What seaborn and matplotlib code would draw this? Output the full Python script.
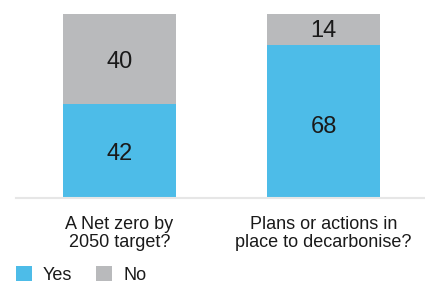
import matplotlib
matplotlib.use("Agg")
import matplotlib.pyplot as plt
import seaborn as sns
import pandas as pd
from matplotlib.patches import Patch

categories = ["A Net zero by\n2050 target?", "Plans or actions in\nplace to decarbonise?"]
yes_values = [42, 68]
no_values = [40, 14]
series_names = ["Yes", "No"]

BLUE = "#4dbce8"
GREY = "#b9babc"
TEXT = "#1a1a1a"

sns.set_theme(style="white")
plt.rcParams["font.family"] = ["Liberation Sans", "DejaVu Sans"]

df = pd.DataFrame({
    "category": categories,
    "Yes": yes_values,
    "No": no_values,
})
df["total"] = df["Yes"] + df["No"]

fig = plt.figure(figsize=(4.25, 2.84), dpi=100)
ax = fig.add_axes([16 / 425, (284 - 197.5) / 284, 1 - 16 / 425, 197.5 / 284])

sns.barplot(data=df, x="category", y="total", color=GREY, width=0.554,
            saturation=1, ax=ax, edgecolor="none", linewidth=0)
sns.barplot(data=df, x="category", y="Yes", color=BLUE, width=0.554,
            saturation=1, ax=ax, edgecolor="none", linewidth=0)

for i, (y, n) in enumerate(zip(yes_values, no_values)):
    ax.text(i, y * 0.46, str(y), ha="center", va="center", fontsize=17, color=TEXT)
    ax.text(i, y + n * 0.46, str(n), ha="center", va="center", fontsize=17, color=TEXT)

ax.set_xlim(-0.507, 1.497)
ax.set_ylim(0, 88.25)
ax.set_xlabel("")
ax.set_ylabel("")
ax.set_yticks([])
for s in ["top", "right", "left"]:
    ax.spines[s].set_visible(False)
ax.spines["bottom"].set_color("#e6e6e6")
ax.spines["bottom"].set_linewidth(1.5)
ax.tick_params(axis="x", length=0, pad=13, labelsize=13, labelcolor=TEXT)
for lbl in ax.get_xticklabels():
    lbl.set_linespacing(1.1)

handles = [Patch(facecolor=BLUE, edgecolor="none"), Patch(facecolor=GREY, edgecolor="none")]
fig.legend(handles, series_names, loc="center left",
           bbox_to_anchor=(16 / 425, (284 - 275) / 284), ncol=2, frameon=False,
           borderpad=0, borderaxespad=0, handlelength=0.9, handleheight=0.9,
           handletextpad=0.6, columnspacing=1.3, fontsize=13,
           labelcolor=TEXT)

fig.savefig("out.png", dpi=100)
